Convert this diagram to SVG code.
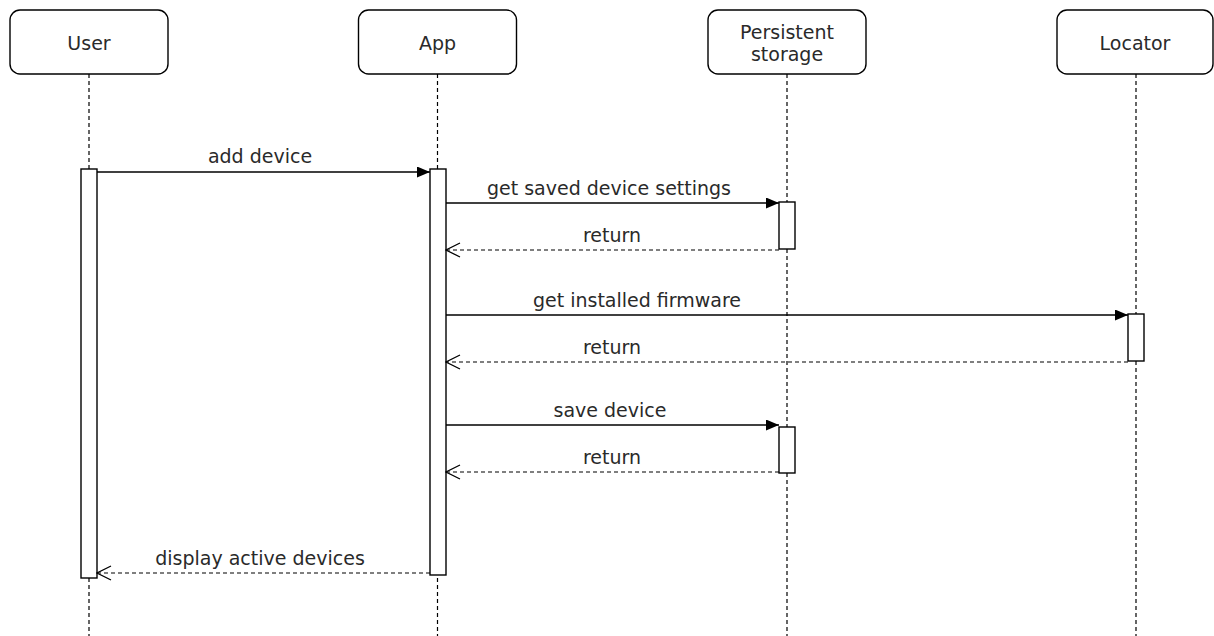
<svg xmlns="http://www.w3.org/2000/svg" width="1214" height="636" viewBox="0 0 1214 636">
  <defs>
    <marker id="solid" viewBox="0 0 13 11" refX="13" refY="5.5" markerWidth="13" markerHeight="11" markerUnits="userSpaceOnUse" orient="auto">
      <path d="M0,0 L13,5.5 L0,11 Z" fill="#000"/>
    </marker>
    <marker id="open" viewBox="0 0 16 16" refX="15" refY="8" markerWidth="16" markerHeight="16" markerUnits="userSpaceOnUse" orient="auto">
      <path d="M1,1 L15,8 L1,15" fill="none" stroke="#000" stroke-width="1.3"/>
    </marker>
  </defs>
  <style>
    .head { fill: #fff; stroke: #000; stroke-width: 1.4; }
    .life { stroke: #000; stroke-width: 1.2; stroke-dasharray: 4 3; fill: none; }
    .act { fill: #fff; stroke: #000; stroke-width: 1.4; }
    .msg { stroke: #000; stroke-width: 1.4; fill: none; marker-end: url(#solid); }
    .ret { stroke: #000; stroke-width: 1.2; fill: none; stroke-dasharray: 4 3; marker-end: url(#open); }
    text { font-family: "DejaVu Sans", "Liberation Sans", sans-serif; font-size: 19px; fill: #2a2a2a; text-anchor: middle; }
  </style>
  <rect width="1214" height="636" fill="#fff"/>

  <!-- lifelines -->
  <g id="lifelines">
    <line class="life" x1="89" y1="74" x2="89" y2="636"/>
    <line class="life" x1="437.5" y1="74" x2="437.5" y2="636"/>
    <line class="life" x1="787" y1="74" x2="787" y2="636"/>
    <line class="life" x1="1136" y1="74" x2="1136" y2="636"/>
  </g>

  <g id="user">
    <rect class="head" x="10" y="10" width="158" height="64" rx="10"/>
    <text x="89" y="50">User</text>
    <rect class="act" x="81" y="169" width="16" height="409"/>
  </g>

  <g id="app">
    <rect class="head" x="358.5" y="10" width="158" height="64" rx="10"/>
    <text x="437.5" y="50">App</text>
    <rect class="act" x="430" y="169" width="16" height="406"/>
  </g>

  <g id="storage">
    <rect class="head" x="708" y="10" width="158" height="64" rx="10"/>
    <text x="787" y="39">Persistent</text>
    <text x="787" y="61">storage</text>
    <rect class="act" x="779" y="202" width="16" height="47"/>
    <rect class="act" x="779" y="427" width="16" height="46"/>
  </g>

  <g id="locator">
    <rect class="head" x="1057" y="10" width="156" height="64" rx="10"/>
    <text x="1135" y="50">Locator</text>
    <rect class="act" x="1128" y="314" width="16" height="47"/>
  </g>

  <!-- messages -->
  <g id="connectors">
    <line class="msg" x1="97" y1="172" x2="430" y2="172"/>
    <text x="260" y="163">add device</text>

    <line class="msg" x1="446" y1="203" x2="779" y2="203"/>
    <text x="609" y="195">get saved device settings</text>

    <line class="ret" x1="779" y1="250" x2="446" y2="250"/>
    <text x="612" y="242">return</text>

    <line class="msg" x1="446" y1="315" x2="1128" y2="315"/>
    <text x="637" y="307">get installed firmware</text>

    <line class="ret" x1="1128" y1="362" x2="446" y2="362"/>
    <text x="612" y="354">return</text>

    <line class="msg" x1="446" y1="425" x2="779" y2="425"/>
    <text x="610" y="417">save device</text>

    <line class="ret" x1="779" y1="472" x2="446" y2="472"/>
    <text x="612" y="464">return</text>

    <line class="ret" x1="430" y1="573" x2="97" y2="573"/>
    <text x="260" y="565">display active devices</text>
  </g>
</svg>
